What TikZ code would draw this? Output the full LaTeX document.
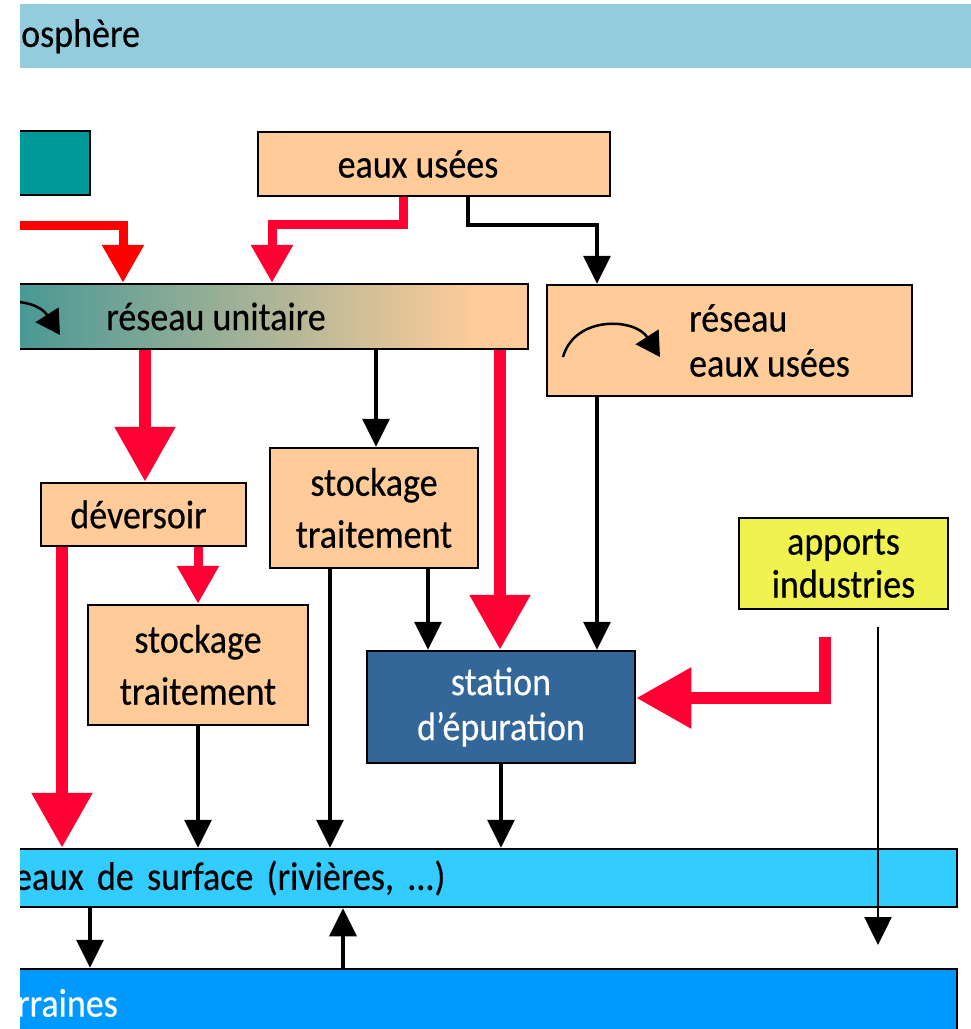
\documentclass[tikz,border=0pt]{standalone}
\usepackage{fontspec}
\setmainfont{Carlito}[FakeStretch=0.9,FakeBold=0.4]
\usetikzlibrary{arrows.meta}
\definecolor{atmo}{RGB}{147,205,221}
\definecolor{sarcelle}{RGB}{0,153,153}
\definecolor{peche}{RGB}{255,204,153}
\definecolor{ruteal}{RGB}{72,152,148}
\definecolor{station}{RGB}{51,102,153}
\definecolor{jaune}{RGB}{240,242,80}
\definecolor{surface}{RGB}{51,204,255}
\definecolor{souter}{RGB}{0,153,255}
\definecolor{rouge}{RGB}{255,0,51}
\pgfdeclarehorizontalshading{rushade}{100bp}{color(0bp)=(ruteal); color(34bp)=(ruteal); color(71bp)=(peche); color(100bp)=(peche)}
\begin{document}
\begin{tikzpicture}[x=1pt,y=-1pt,font=\fontsize{40}{45}\selectfont,
    box/.style={draw=black,line width=2.5pt,fill=peche,inner sep=0pt,align=center},
    band/.style={draw=black,line width=2.5pt,inner sep=0pt,minimum width=947pt,align=left},
    blk/.style={-{Triangle[length=28pt,width=27pt]},line width=3.5pt},
    rfat/.style={-{Triangle[length=55pt,width=58pt]},rouge,line width=12pt},
    rmid/.style={-{Triangle[length=38pt,width=40pt]},rouge,line width=9pt}]
      \useasboundingbox (0,0) rectangle (971,1029);
      \clip (20,0) rectangle (971,1029);
      \node(atm)[fill=atmo,minimum width=960pt,minimum height=64pt,inner sep=0pt,text width=958pt,align=left,anchor=north west] at (20,4) {osphère};
      \node(teal)[draw,line width=2.5pt,fill=sarcelle,minimum width=80pt,minimum height=64pt] at (50,163) {};
      \node(eu)[box,minimum width=352pt,minimum height=64pt] at (434,164) {eaux usées\hspace*{32pt}};
      \node(ru)[draw,line width=2.5pt,shade,shading=rushade,minimum width=624pt,minimum height=65pt,inner sep=0pt] at (216,316.5) {réseau unitaire};
      \node(reu)[box,align=left,minimum width=365pt,minimum height=111pt] at (729.5,340.5) {\hspace*{80pt}réseau\\\hspace*{80pt}eaux usées};
      \node(dev)[box,minimum width=205pt,minimum height=63pt] at (143.5,514.5) {déversoir\hspace*{10pt}};
      \node(st1)[box,font=\fontsize{40}{52}\selectfont,minimum width=208pt,minimum height=120pt] at (374,508) {stockage\\traitement};
      \node(st2)[box,font=\fontsize{40}{52}\selectfont,minimum width=220pt,minimum height=120pt] at (198,665) {stockage\\traitement};
      \node(sep)[box,fill=station,text=white,minimum width=268pt,minimum height=112pt] at (501,707) {station\\d’épuration};
      \node(api)[box,fill=jaune,font=\fontsize{40}{43}\selectfont,minimum width=209pt,minimum height=91pt] at (843.5,563.5) {apports\\industries};
      \node(esurf)[band,fill=surface,minimum height=58pt,text width=939pt] at (483.5,878) {eaux de surface (rivières, ...)};
      \node(esout)[band,fill=souter,text=white,minimum height=68pt,text width=933pt] at (483.5,1003) {rraines};
      \coordinate(gin) at (10,225);
      \coordinate(ind) at (825,637);
      \coordinate(ih) at (878,627);
      \coordinate(ib) at (878,945);
      \draw[line width=2.5pt,-{Triangle[length=24pt,width=27pt]}] (563,357) .. controls (575,315) and (635,318) .. (660,357);
      \draw[line width=2.5pt,-{Triangle[length=24pt,width=27pt]}] (-37,335) .. controls (-25,293) and (35,296) .. (60,335);
      \draw[rmid,red] (gin) -| (ru.north -| 123,0);
      \draw[rmid] (eu.south -| 403,0) -- (403,224) -| (ru.north -| 272,0);
      \draw[blk] (eu.south -| 468,0) -- (468,225) -| (reu.north -| 597,0);
      \path[rfat] (ru.south -| 145,0) edge (dev.north -| 145,0);
      \path[rfat] (ru.south -| 500,0) edge (sep.north -| 500,0);
      \path[blk] (ru.south -| 376,0) edge (st1.north -| 376,0);
      \path[rfat] (dev.south -| 62,0) edge (esurf.north -| 62,0);
      \path[rmid] (dev.south -| 198,0) edge (st2.north -| 198,0);
      \path[blk] (reu.south -| 597,0) edge (sep.north -| 597,0);
      \path[blk] (st1.south -| 330,0) edge (esurf.north -| 330,0);
      \path[blk] (st1.south -| 428,0) edge (sep.north -| 428,0);
      \path[blk] (st2.south) edge (st2.south |- esurf.north);
      \path[blk] (sep.south) edge (sep.south |- esurf.north);
      \draw[rfat] (ind) |- (sep.east |- 0,698);
      \path[blk,line width=2.5pt] (ih) edge (ib);
      \path[blk] (esurf.south -| 90,0) edge (esout.north -| 90,0);
      \path[blk] (esout.north -| 343,0) edge (esurf.south -| 343,0);
    \end{tikzpicture}
\end{document}
